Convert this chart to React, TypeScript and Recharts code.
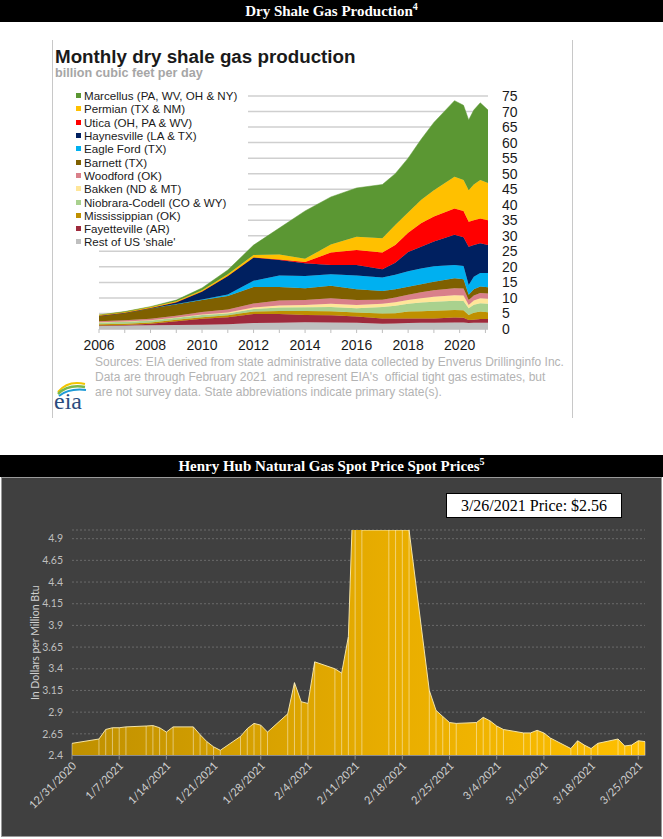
import React from 'react';
import { AreaChart, Area, XAxis, YAxis, CartesianGrid, Legend, ReferenceLine } from 'recharts';

// ---------- Dry shale gas production (billion cubic feet per day) ----------
const shaleYears = [2006, 2007, 2008, 2009, 2010, 2011, 2012, 2013, 2014, 2015, 2016, 2017, 2017.5, 2018, 2018.5, 2019, 2019.8, 2020.15, 2020.35, 2020.55, 2020.8, 2021.1];
const restOfUS = [1.0, 1.1, 1.2, 1.3, 1.4, 1.5, 1.9, 2.0, 2.2, 2.1, 2.0, 1.7, 1.8, 1.9, 2.0, 2.0, 2.1, 2.1, 1.9, 2.0, 2.0, 2.0];
const fayetteville = [0.1, 0.2, 0.5, 1.2, 1.9, 2.3, 2.9, 2.8, 2.3, 2.3, 2.0, 1.7, 1.6, 1.5, 1.4, 1.4, 1.6, 1.5, 1.0, 1.0, 1.2, 1.2];
const mississippian = [0.4, 0.4, 0.4, 0.5, 0.5, 0.6, 0.8, 1.0, 1.3, 1.3, 1.3, 1.6, 1.7, 2.2, 2.3, 2.5, 2.4, 2.4, 1.6, 2.2, 2.4, 2.2];
const niobrara = [0.6, 0.6, 0.6, 0.6, 0.7, 0.6, 0.8, 1.1, 1.2, 1.4, 1.4, 2.1, 2.4, 2.5, 2.8, 2.9, 3.0, 3.0, 2.2, 2.6, 2.7, 2.7];
const bakken = [0.05, 0.1, 0.1, 0.1, 0.2, 0.3, 0.5, 0.7, 0.7, 1.0, 1.0, 1.0, 1.1, 1.2, 1.4, 1.6, 1.8, 1.8, 1.0, 1.4, 1.6, 1.6];
const woodford = [0.35, 0.4, 0.5, 0.6, 0.8, 1.0, 1.3, 1.6, 1.6, 1.8, 1.6, 1.3, 1.5, 1.7, 1.9, 2.1, 2.2, 2.2, 1.6, 1.6, 1.7, 1.7];
const barnett = [1.7, 2.4, 3.4, 3.7, 3.8, 4.3, 5.3, 4.3, 3.8, 4.0, 3.5, 2.8, 2.7, 2.6, 2.6, 2.7, 3.2, 3.0, 1.7, 2.0, 2.1, 2.0];
const eagleFord = [0, 0, 0, 0.05, 0.2, 0.5, 2.0, 3.7, 4.0, 3.7, 4.4, 4.4, 4.7, 5.0, 5.1, 5.0, 4.3, 4.3, 3.2, 4.0, 4.3, 4.6];
const haynesville = [0.05, 0.05, 0.1, 0.55, 2.6, 6.0, 7.5, 5.0, 4.1, 3.0, 3.4, 2.6, 3.8, 6.2, 7.0, 8.0, 9.7, 9.2, 12.3, 10.2, 9.6, 9.0];
const utica = [0, 0, 0, 0, 0, 0, 0.05, 0.2, 0.4, 4.0, 4.8, 5.4, 5.7, 6.2, 7.5, 8.0, 8.5, 8.5, 8.0, 8.0, 8.0, 8.0];
const permian = [0.25, 0.25, 0.3, 0.3, 0.4, 0.5, 0.75, 1.6, 1.0, 2.6, 4.3, 4.6, 6.5, 6.5, 7.5, 8.5, 10.2, 10.0, 10.2, 11.5, 12.4, 12.0];
const marcellus = [0, 0.1, 0.1, 0.4, 0.7, 1.4, 3.2, 8.5, 15.4, 15.3, 15.7, 17.3, 16.5, 17.5, 19.5, 21.8, 24.5, 24.0, 22.6, 24.0, 24.8, 23.5];

const shaleYearTicks = [2006, 2007, 2008, 2009, 2010, 2011, 2012, 2013, 2014, 2015, 2016, 2017, 2018, 2019, 2020, 2021];
const shaleLabelYears = [2006, 2008, 2010, 2012, 2014, 2016, 2018, 2020];
const shaleValueTicks = [0, 5, 10, 15, 20, 25, 30, 35, 40, 45, 50, 55, 60, 65, 70, 75];

// stacked bottom -> top
const shaleSeries = [
  { key: 'rest', name: "Rest of US 'shale'", color: '#bfbfbf', values: restOfUS },
  { key: 'fay', name: 'Fayetteville (AR)', color: '#9e2a3c', values: fayetteville },
  { key: 'miss', name: 'Mississippian (OK)', color: '#bf9000', values: mississippian },
  { key: 'niob', name: 'Niobrara-Codell (CO & WY)', color: '#a9d18e', values: niobrara },
  { key: 'bakk', name: 'Bakken (ND & MT)', color: '#ffe699', values: bakken },
  { key: 'wood', name: 'Woodford (OK)', color: '#d9808a', values: woodford },
  { key: 'barn', name: 'Barnett (TX)', color: '#7f6000', values: barnett },
  { key: 'eagle', name: 'Eagle Ford (TX)', color: '#00b0f0', values: eagleFord },
  { key: 'hay', name: 'Haynesville (LA & TX)', color: '#002060', values: haynesville },
  { key: 'utica', name: 'Utica (OH, PA & WV)', color: '#ff0000', values: utica },
  { key: 'perm', name: 'Permian (TX & NM)', color: '#ffc000', values: permian },
  { key: 'marc', name: 'Marcellus (PA, WV, OH & NY)', color: '#5b9733', values: marcellus },
];

const shaleRows = shaleYears.map((t, i) => {
  const row: any = { t };
  shaleSeries.forEach((s) => { row[s.key] = s.values[i]; });
  return row;
});

const sourceLines = [
  'Sources: EIA derived from state administrative data collected by Enverus Drillinginfo Inc.',
  "Data are through February 2021  and represent EIA's  official tight gas estimates, but",
  'are not survey data. State abbreviations indicate primary state(s).',
];

// ---------- Henry Hub spot price ($/MMBtu) ----------
const hhDates = ['12/31/2020', '1/4/2021', '1/5/2021', '1/6/2021', '1/7/2021', '1/8/2021', '1/11/2021', '1/12/2021', '1/13/2021', '1/14/2021', '1/15/2021', '1/18/2021', '1/19/2021', '1/20/2021', '1/21/2021', '1/22/2021', '1/25/2021', '1/26/2021', '1/27/2021', '1/28/2021', '1/29/2021', '2/1/2021', '2/2/2021', '2/3/2021', '2/4/2021', '2/5/2021', '2/8/2021', '2/9/2021', '2/10/2021', '2/11/2021', '2/12/2021', '2/16/2021', '2/17/2021', '2/18/2021', '2/19/2021', '2/22/2021', '2/23/2021', '2/24/2021', '2/25/2021', '2/26/2021', '3/1/2021', '3/2/2021', '3/3/2021', '3/4/2021', '3/5/2021', '3/8/2021', '3/9/2021', '3/10/2021', '3/11/2021', '3/12/2021', '3/15/2021', '3/16/2021', '3/17/2021', '3/18/2021', '3/19/2021', '3/22/2021', '3/23/2021', '3/24/2021', '3/25/2021', '3/26/2021'];
const hhPrices = [2.54, 2.59, 2.70, 2.72, 2.72, 2.73, 2.74, 2.745, 2.72, 2.67, 2.73, 2.73, 2.64, 2.56, 2.50, 2.46, 2.62, 2.71, 2.77, 2.75, 2.67, 2.88, 3.24, 3.02, 3.00, 3.48, 3.40, 3.35, 3.77, 6.1, 5.0, 5.0, 5.0, 5.0, 5.0, 3.15, 2.92, 2.85, 2.78, 2.77, 2.78, 2.84, 2.80, 2.74, 2.70, 2.66, 2.66, 2.69, 2.66, 2.60, 2.48, 2.57, 2.52, 2.48, 2.54, 2.59, 2.51, 2.52, 2.57, 2.56];
const hhTickLabels = ['12/31/2020', '1/7/2021', '1/14/2021', '1/21/2021', '1/28/2021', '2/4/2021', '2/11/2021', '2/18/2021', '2/25/2021', '3/4/2021', '3/11/2021', '3/18/2021', '3/25/2021'];
const hhValueTicks = [2.4, 2.65, 2.9, 3.15, 3.4, 3.65, 3.9, 4.15, 4.4, 4.65, 4.9];
const hhMin = 2.4;
const hhMax = 5.0;
const hhPriceNote = '3/26/2021 Price: $2.56';

const dayIndex = (s: string) => {
  const [m, d, y] = s.split('/').map(Number);
  return (Date.UTC(y, m - 1, d) - Date.UTC(2020, 11, 31)) / 86400000;
};
const hhRows = hhDates.map((d, i) => ({ day: dayIndex(d), price: hhPrices[i] }));
const hhTickDays = hhTickLabels.map(dayIndex);
const hhLastDay = dayIndex(hhDates[hhDates.length - 1]);

const SERIF = '"Liberation Serif", "Times New Roman", serif';
const SANS = '"Liberation Sans", Arial, sans-serif';

const ShaleLegendBox = () => (
  <div style={{ background: '#ffffff', paddingTop: 1, width: 172 }}>
    {[...shaleSeries].reverse().map((s) => (
      <div key={s.key} style={{ display: 'flex', alignItems: 'center', height: 13.3, fontSize: 11.6, fontFamily: SANS, color: '#1a1a1a', whiteSpace: 'nowrap', lineHeight: '13px' }}>
        <span style={{ display: 'inline-block', width: 5, height: 5, background: s.color, marginRight: 3 }} />
        {s.name}
      </div>
    ))}
  </div>
);

const HHTick = (props: any) => {
  const { x, y, payload } = props;
  const idx = hhTickDays.indexOf(payload.value);
  const label = idx >= 0 ? hhTickLabels[idx] : '';
  return (
    <g transform={`translate(${x},${y})`}>
      <text x={0} y={0} dy={7} textAnchor="end" transform="rotate(-45)" fill="#d0d0d0" fontSize={11} fontFamily="Lato, sans-serif">
        {label}
      </text>
    </g>
  );
};

const HHYLabel = (props: any) => {
  const vb = props.viewBox || { x: 26, y: 0, width: 46, height: 0 };
  const cx = vb.x + 9;
  const cy = vb.y + vb.height / 2;
  return (
    <text x={cx} y={cy} transform={`rotate(-90, ${cx}, ${cy})`} textAnchor="middle" dominantBaseline="central" fill="#d0d0d0" fontSize={10.5} fontFamily="Lato, sans-serif">
      In Dollars per Million Btu
    </text>
  );
};

export default function App() {
  return (
    <div style={{ position: 'absolute', left: 0, top: 0, width: 663, height: 839, background: '#ffffff', overflow: 'hidden', fontFamily: SANS }}>
      {/* ---------- top section ---------- */}
      <div style={{ position: 'absolute', left: 0, top: 0, width: 663, height: 22, background: '#000000', color: '#ffffff', fontFamily: SERIF, fontWeight: 'bold', fontSize: 15, lineHeight: '22px', textAlign: 'center' }}>
        Dry Shale Gas Production<sup style={{ fontSize: 10, lineHeight: 0 }}>4</sup>
      </div>

      <div style={{ position: 'absolute', left: 52, top: 40, width: 1, height: 378, background: '#c8c8c8' }} />
      <div style={{ position: 'absolute', left: 572, top: 40, width: 1, height: 378, background: '#c8c8c8' }} />

      <div style={{ position: 'absolute', left: 0, top: 0 }}>
        <AreaChart width={663} height={420} data={shaleRows} margin={{ top: 96, left: 99, right: 115, bottom: 61 }}>
          <CartesianGrid horizontal vertical={false} stroke="#cfcfcf" strokeWidth={1.5} />
          <XAxis
            dataKey="t"
            type="number"
            domain={[2006, 2021.1]}
            allowDataOverflow
            ticks={shaleYearTicks}
            interval={0}
            tickFormatter={(v: number) => (shaleLabelYears.includes(v) ? String(v) : '')}
            height={30}
            tickSize={4}
            tickMargin={7}
            axisLine={{ stroke: '#bfbfbf' }}
            tickLine={{ stroke: '#bfbfbf' }}
            tick={{ fill: '#1a1a1a', fontSize: 14, fontFamily: SANS }}
          />
          <YAxis
            orientation="right"
            domain={[0, 75]}
            ticks={shaleValueTicks}
            interval={0}
            width={60}
            axisLine={false}
            tickLine={false}
            tickMargin={8}
            tick={{ fill: '#1a1a1a', fontSize: 14, fontFamily: SANS, textAnchor: 'start' }}
          />
          {shaleSeries.map((s) => (
            <Area
              key={s.key}
              type="linear"
              dataKey={s.key}
              name={s.name}
              stackId="shale"
              fill={s.color}
              fillOpacity={1}
              stroke={s.color}
              strokeWidth={0.5}
              isAnimationActive={false}
            />
          ))}
          <Legend
            layout="vertical"
            align="center"
            verticalAlign="middle"
            content={() => <ShaleLegendBox />}
            wrapperStyle={{ left: 76, top: 88, width: 172, height: 162 }}
          />
        </AreaChart>
      </div>

      <div style={{ position: 'absolute', left: 55, top: 47, fontSize: 18.8, fontWeight: 'bold', color: '#1a1a1a', lineHeight: '20px', whiteSpace: 'nowrap' }}>
        Monthly dry shale gas production
      </div>
      <div style={{ position: 'absolute', left: 55, top: 66, fontSize: 12.6, fontWeight: 'bold', color: '#a6a6a6', lineHeight: '14px', whiteSpace: 'nowrap' }}>
        billion cubic feet per day
      </div>

      {sourceLines.map((line, i) => (
        <div key={i} style={{ position: 'absolute', left: 95, top: 355 + i * 15, fontSize: 12, color: '#b3b3b3', lineHeight: '15px', whiteSpace: 'pre' }}>
          {line}
        </div>
      ))}

      <svg style={{ position: 'absolute', left: 53, top: 376 }} width={46} height={42}>
        <path d="M5 16 Q15 4 32 8" stroke="#f2c500" strokeWidth={2} fill="none" />
        <path d="M5 18 Q15 8 32 11" stroke="#7cb84a" strokeWidth={2.5} fill="none" />
        <path d="M6 20 Q16 12 33 14" stroke="#1e9bd7" strokeWidth={2} fill="none" />
        <text x={1} y={33} fontFamily={SERIF} fontSize={24} fill="#2b4c7e">eia</text>
      </svg>

      {/* ---------- bottom section ---------- */}
      <div style={{ position: 'absolute', left: 0, top: 455, width: 663, height: 22, background: '#000000', color: '#ffffff', fontFamily: SERIF, fontWeight: 'bold', fontSize: 15, lineHeight: '22px', textAlign: 'center' }}>
        Henry Hub Natural Gas Spot Price Spot Prices<sup style={{ fontSize: 10, lineHeight: 0 }}>5</sup>
      </div>

      <div style={{ position: 'absolute', left: 1, top: 477, width: 659, height: 358, background: '#404040', border: '1px solid #9a9a9a' }} />

      <div style={{ position: 'absolute', left: 0, top: 476 }}>
        <AreaChart width={663} height={360} data={hhRows} margin={{ top: 54, left: 26, right: 18, bottom: 10.5 }}>
          <defs>
            <linearGradient id="hhGold" x1="0" y1="0" x2="1" y2="0">
              <stop offset="0%" stopColor="#bf9000" />
              <stop offset="55%" stopColor="#e8ad00" />
              <stop offset="100%" stopColor="#ffc000" />
            </linearGradient>
          </defs>
          <CartesianGrid horizontal vertical={false} stroke="#6a6a6a" strokeDasharray="2 2" />
          <XAxis
            dataKey="day"
            type="number"
            domain={[0, hhLastDay]}
            allowDataOverflow
            ticks={hhTickDays}
            interval={0}
            height={70}
            tickSize={4}
            tickMargin={2}
            axisLine={{ stroke: '#8c8c8c' }}
            tickLine={{ stroke: '#8c8c8c' }}
            tick={<HHTick />}
          />
          <YAxis
            domain={[hhMin, hhMax]}
            allowDataOverflow
            ticks={hhValueTicks}
            interval={0}
            width={46}
            axisLine={false}
            tickLine={false}
            tickMargin={3}
            tick={{ fill: '#bfbfbf', fontSize: 10.5, fontFamily: 'Lato, sans-serif' }}
            label={<HHYLabel />}
          />
          <Area
            type="linear"
            dataKey="price"
            fill="url(#hhGold)"
            fillOpacity={1}
            stroke="#f4e3a4"
            strokeWidth={1}
            baseValue={hhMin}
            isAnimationActive={false}
          />
          {hhRows.map((r) => (
            <ReferenceLine
              key={r.day}
              segment={[{ x: r.day, y: hhMin }, { x: r.day, y: Math.min(r.price, hhMax) }]}
              stroke="#ffffff"
              strokeOpacity={0.45}
              strokeWidth={1}
              ifOverflow="visible"
            />
          ))}
        </AreaChart>
      </div>

      <div style={{ position: 'absolute', left: 446, top: 493, width: 174, height: 23, background: '#ffffff', border: '1px solid #000000', fontFamily: SERIF, fontSize: 16, lineHeight: '23px', textAlign: 'center', color: '#000000' }}>
        {hhPriceNote}
      </div>
    </div>
  );
}
